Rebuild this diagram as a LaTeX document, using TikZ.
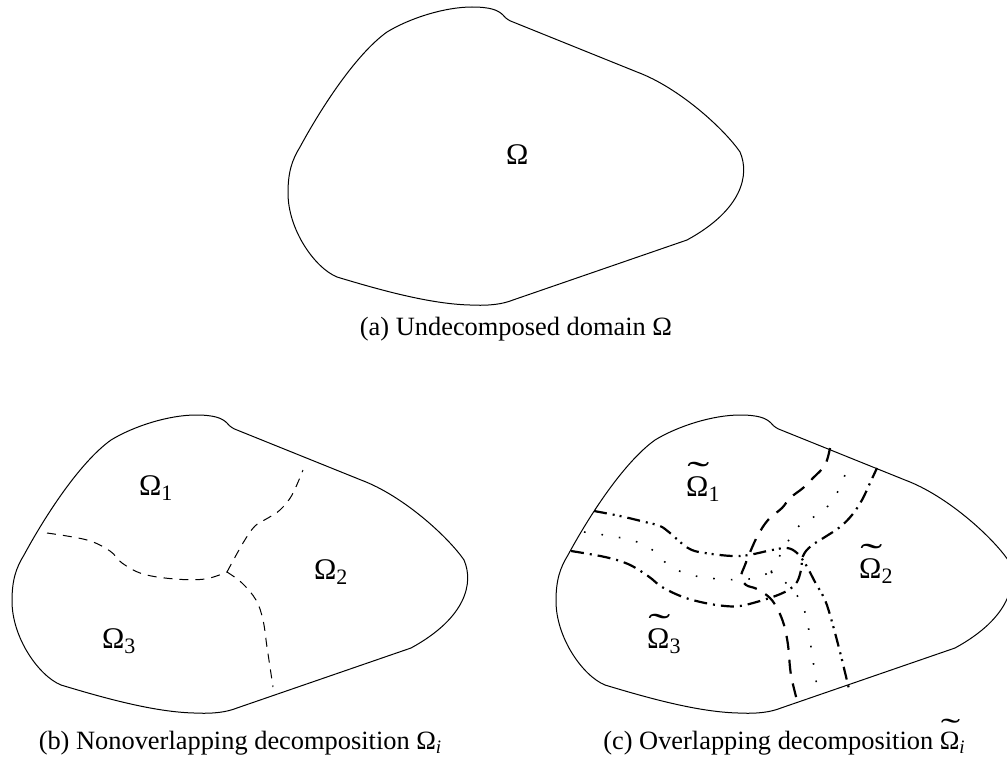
\documentclass[tikz,border=0pt]{standalone}
\usepackage{fontspec}
\setmainfont{Liberation Serif}
\usepackage{graphicx}
\newcommand\tOmega{\leavevmode\rlap{\kern0.04em\raisebox{0.33em}[0pt][0pt]{\scalebox{2.2}[1.2]{\char"02DC}}}Ω}
\newcommand\lsub[1]{\raisebox{-5pt}{\fontsize{22}{22}\selectfont #1}}
\newcommand\csub[1]{\raisebox{-4pt}{\fontsize{19}{19}\selectfont\itshape #1}}
\newcommand\blobpath{(513,22) -- (637,72) .. controls (680,88) and (725,130) .. (740,152) .. controls (750,175) and (742,210) .. (687,240) -- (513,300) .. controls (503,304) and (490,306) .. (470,305) .. controls (430,304) and (380,290) .. (337,277) .. controls (315,268) and (288,230) .. (288,193) .. controls (288,172) and (292,160) .. (300,147) .. controls (320,110) and (355,55) .. (387,32) .. controls (410,18) and (445,7) .. (472,7) .. controls (490,7) and (498,10) .. (503,15) .. controls (506,19) and (510,21) .. (513,22) -- cycle}
\tikzset{
  blobline/.style={line width=1pt},
  bdash/.style={line width=1pt, dash pattern=on 9pt off 7pt},
  cdash/.style={line width=2.2pt, dash pattern=on 14pt off 10pt},
  cdashdot/.style={line width=2.2pt, dash pattern=on 13pt off 6pt on 2pt off 6pt},
  cdashdotdot/.style={line width=2.2pt, dash pattern=on 13pt off 6pt on 2pt off 5pt on 2pt off 6pt},
  cdot/.style={line width=1.6pt, dash pattern=on 1.6pt off 16pt},
  lab/.style={anchor=base west, inner sep=0pt, font=\fontsize{30}{34}\selectfont},
  captext/.style={anchor=base, inner sep=0pt, font=\fontsize{26.4}{31}\selectfont},
}
\begin{document}
\begin{tikzpicture}[x=1pt,y=-1pt]
\useasboundingbox (0,0) rectangle (1007,760);
\clip (0,0) rectangle (1007,760);
% (a)
\draw[blobline] \blobpath;
\node[lab] (om) at (506,164) {Ω};
\node[captext] (capa) at (516,335) {(a) Undecomposed domain Ω};
% (b)
\draw[blobline,shift={(-276,408)}] \blobpath;
\draw[bdash] plot[smooth, tension=0.6] coordinates {(47,533) (87,540) (110,551) (122,563) (143,574) (175,579) (205,579) (227,572)};
\draw[bdash] plot[smooth, tension=0.6] coordinates {(227,572) (243,543) (255,526) (268,518) (280,510) (292,495) (303,470)};
\draw[bdash] plot[smooth, tension=0.6] coordinates {(227,572) (242,583) (256,600) (263,620) (267,647) (273,687)};
\node[lab] (b1) at (139,495) {Ω\lsub{1}};
\node[lab] (b2) at (314,579) {Ω\lsub{2}};
\node[lab] (b3) at (102,648) {Ω\lsub{3}};
\node[captext] (capb) at (240,749) {(b) Nonoverlapping decomposition Ω\csub{i}};
% (c)
\draw[blobline,shift={(268,408)}] \blobpath;
\draw[cdot] plot[smooth, tension=0.6] coordinates {(584,532) (631,540) (654,551) (666,563) (687,574) (719,579) (749,579) (771,572)};
\draw[cdot] plot[smooth, tension=0.6] coordinates {(771,572) (787,543) (799,526) (812,518) (824,510) (836,495) (847,470)};
\draw[cdot] plot[smooth, tension=0.6] coordinates {(771,572) (786,583) (800,600) (807,620) (811,647) (817,687)};
\draw[cdash] plot[smooth, tension=0.6] coordinates {(830,448) (825,465) (813,478) (803,488) (790,498) (782,508) (768,520) (758,535) (751,550) (745,565) (741,577) (746,585) (757,589) (770,598) (778,610) (784,625) (788,645) (791,675) (798,704)};
\draw[cdashdot] plot[smooth, tension=0.6] coordinates {(571,551) (605,557) (628,564) (648,576) (662,587) (683,597) (705,603) (725,606) (740,606) (760,601) (778,595) (790,589) (797,582) (801,570) (803,556) (811,546) (825,537) (840,527) (852,515) (862,500) (870,483) (877,468)};
\draw[cdashdotdot] plot[smooth, tension=0.6] coordinates {(594,511) (620,516) (645,522) (660,526) (670,533) (688,548) (705,553) (740,556) (772,550) (787,548) (797,553) (806,565) (815,582) (825,600) (832,622) (840,652) (849,689)};
\node[lab] (c1) at (686,496) {\tOmega\lsub{1}};
\node[lab] (c2) at (859,578) {\tOmega\lsub{2}};
\node[lab] (c3) at (647,648) {\tOmega\lsub{3}};
\node[captext] (capc) at (784,749) {(c) Overlapping decomposition \tOmega\csub{i}};
\end{tikzpicture}
\end{document}
